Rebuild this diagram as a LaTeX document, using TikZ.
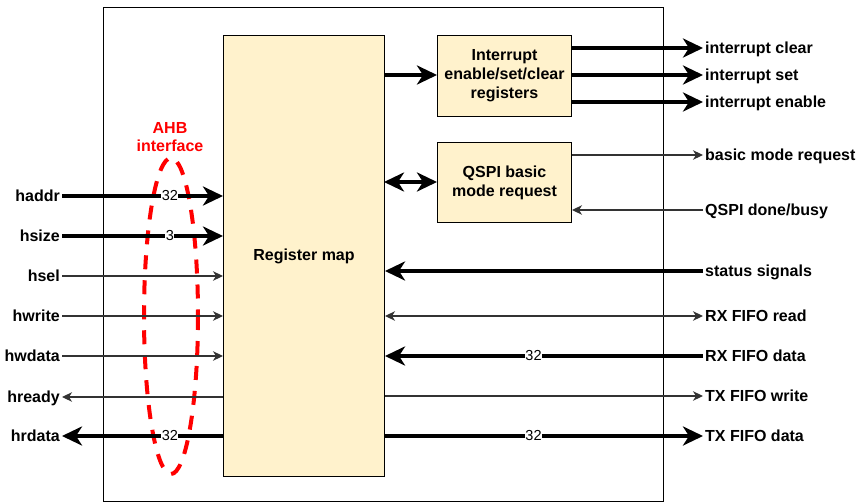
\documentclass[tikz,border=0pt]{standalone}
\usepackage{fontspec}
\setmainfont{Liberation Sans}
\usetikzlibrary{arrows.meta}

\definecolor{boxfill}{HTML}{FFF2CC}
\definecolor{ahbred}{HTML}{FF0000}

\tikzset{
  block/.style={draw=black, line width=1pt, fill=boxfill, align=center,
    font=\fontsize{16}{19}\selectfont\bfseries, inner sep=0pt, anchor=north west},
  sig/.style={font=\fontsize{16}{19}\selectfont\bfseries, inner xsep=2pt, inner ysep=0pt,
    text depth=0pt},
  buslabel/.style={font=\fontsize{14.5}{17}\selectfont, fill=white, inner sep=0.5pt},
  thickline/.style={line width=4pt},
  thinline/.style={line width=1.1pt, draw=black!80},
  bigtip/.tip={Stealth[length=20pt, width=19pt, inset=6pt]},
  smalltip/.tip={Stealth[length=10pt, width=9.5pt, inset=3pt]},
  wide/.style={thickline, -bigtip},
  wideboth/.style={thickline, bigtip-bigtip},
  narrow/.style={thinline, -smalltip},
  narrowboth/.style={thinline, smalltip-smalltip},
}

\begin{document}
\begin{tikzpicture}[x=1pt, y=-1pt]
  \useasboundingbox (0,0) rectangle (859,503);

  % module outline
  \draw[line width=1pt] (103,8) rectangle (663,501);

  % blocks
  \node[block, minimum width=161pt, minimum height=441pt] (reg) at (223,35) {Register map};
  \node[block, minimum width=134pt, minimum height=81pt] (irq) at (437,35)
    {Interrupt\\enable/set/clear\\registers};
  \node[block, minimum width=134pt, minimum height=80pt] (qspi) at (437,142)
    {QSPI basic\\mode request};

  % AHB side labels
  \node[sig, anchor=east] (haddr)  at (62,196) {haddr};
  \node[sig, anchor=east] (hsize)  at (62,236) {hsize};
  \node[sig, anchor=east] (hsel)   at (62,276) {hsel};
  \node[sig, anchor=east] (hwrite) at (62,316) {hwrite};
  \node[sig, anchor=east] (hwdata) at (62,356) {hwdata};
  \node[sig, anchor=east] (hready) at (62,397) {hready};
  \node[sig, anchor=east] (hrdata) at (62,436) {hrdata};

  % AHB interface grouping
  \draw[ahbred, line width=4pt, dash pattern=on 14pt off 11pt] (171,316) ellipse [x radius=27, y radius=158];
  \node[font=\fontsize{16}{18}\selectfont\bfseries, text=ahbred, align=center, inner sep=0pt]
    (ahb) at (170,137) {AHB\\interface};

  % AHB connections
  \draw[wide] (haddr.east) -- node[buslabel, pos=0.67] (haddrw) {32} (haddr.east -| reg.west);
  \draw[wide] (hsize.east) -- node[buslabel, pos=0.67] (hsizew) {3} (hsize.east -| reg.west);
  \draw[narrow] (hsel.east) -- (hsel.east -| reg.west);
  \draw[narrow] (hwrite.east) -- (hwrite.east -| reg.west);
  \draw[narrow] (hwdata.east) -- (hwdata.east -| reg.west);
  \draw[narrow] (hready.east -| reg.west) -- (hready.east);
  \draw[wide] (hrdata.east -| reg.west) -- node[buslabel, pos=0.33] (hrdataw) {32} (hrdata.east);

  % peripheral side labels
  \node[sig, anchor=west] (iclr)  at (703,48)  {interrupt clear};
  \node[sig, anchor=west] (iset)  at (703,75)  {interrupt set};
  \node[sig, anchor=west] (ien)   at (703,102) {interrupt enable};
  \node[sig, anchor=west] (bmreq) at (703,155) {basic mode request};
  \node[sig, anchor=west] (qdone) at (703,210) {QSPI done/busy};
  \node[sig, anchor=west] (stat)  at (703,271) {status signals};
  \node[sig, anchor=west] (rxrd)  at (703,316) {RX FIFO read};
  \node[sig, anchor=west] (rxd)   at (703,356) {RX FIFO data};
  \node[sig, anchor=west] (txwr)  at (703,396) {TX FIFO write};
  \node[sig, anchor=west] (txd)   at (703,436) {TX FIFO data};

  % internal connections
  \coordinate (regirq) at (384,75);
  \coordinate (regqspi) at (384,182);
  \draw[wide] (regirq) -- (regirq -| irq.west);
  \draw[wideboth] (regqspi) -- (regqspi -| qspi.west);

  % interrupt outputs
  \draw[wide] (iclr.west -| irq.east) -- (iclr.west);
  \draw[wide] (iset.west -| irq.east) -- (iset.west);
  \draw[wide] (ien.west -| irq.east) -- (ien.west);

  % QSPI handshake
  \draw[narrow] (bmreq.west -| qspi.east) -- (bmreq.west);
  \draw[narrow] (qdone.west) -- (qdone.west -| qspi.east);

  % FIFO and status connections
  \draw[wide] (stat.west) -- (stat.west -| reg.east);
  \draw[narrowboth] (rxrd.west -| reg.east) -- (rxrd.west);
  \draw[wide] (rxd.west) -- node[buslabel, pos=0.533] (rxdw) {32} (rxd.west -| reg.east);
  \draw[narrow] (txwr.west -| reg.east) -- (txwr.west);
  \draw[wide] (txd.west -| reg.east) -- node[buslabel, pos=0.467] (txdw) {32} (txd.west);
\end{tikzpicture}
\end{document}
